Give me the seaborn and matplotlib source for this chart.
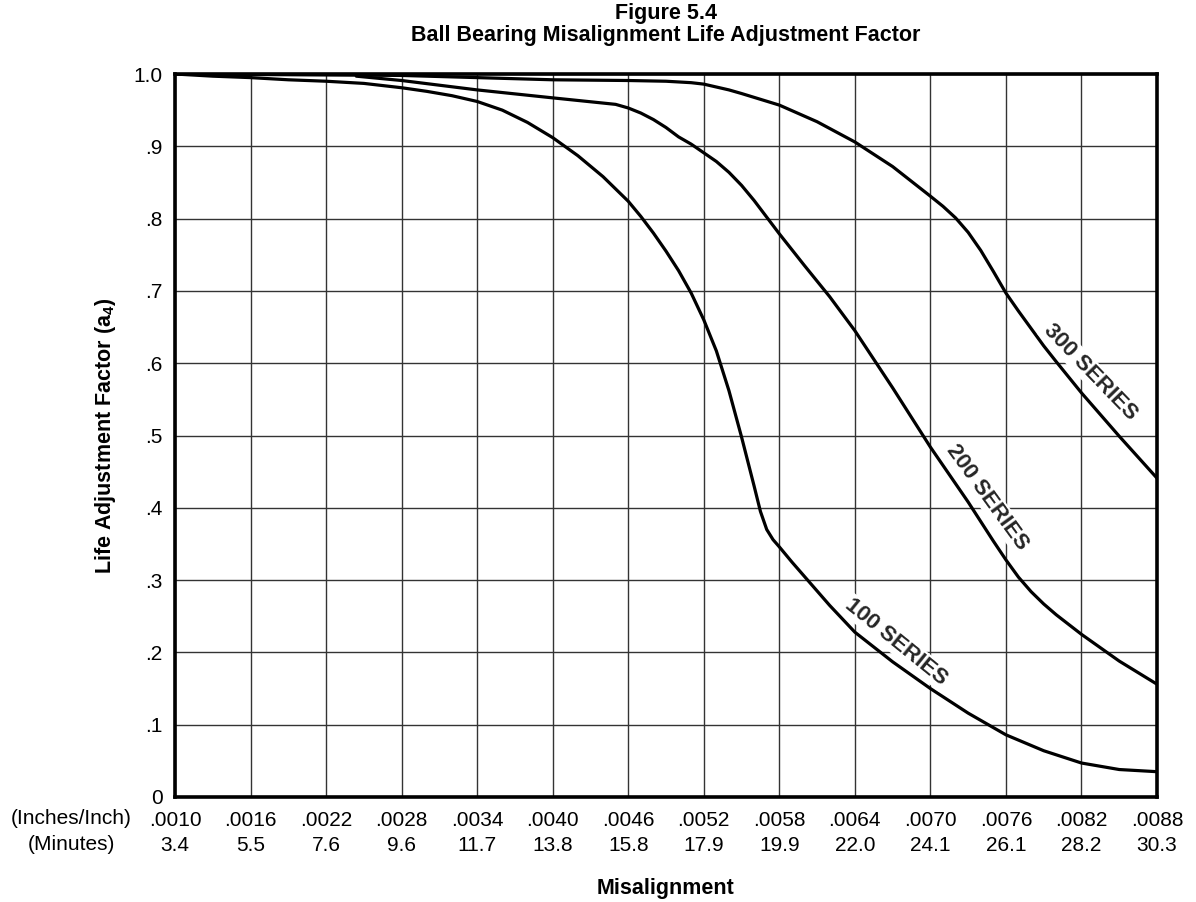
import numpy as np
import pandas as pd
import seaborn as sns
import matplotlib.pyplot as plt

# misalignment ticks (inches/inch) and the matching minutes
inch_ticks = [".0010", ".0016", ".0022", ".0028", ".0034", ".0040", ".0046",
              ".0052", ".0058", ".0064", ".0070", ".0076", ".0082", ".0088"]
minute_ticks = ["3.4", "5.5", "7.6", "9.6", "11.7", "13.8", "15.8",
                "17.9", "19.9", "22.0", "24.1", "26.1", "28.2", "30.3"]
y_ticks = [0, .1, .2, .3, .4, .5, .6, .7, .8, .9, 1.0]
y_ticklabels = ["0", ".1", ".2", ".3", ".4", ".5", ".6", ".7", ".8", ".9", "1.0"]

# curves
x100 = [.0010, .0013, .0016, .0019, .0022, .0025, .0028, .0030, .0032, .0034,
        .0036, .0038, .0040, .0042, .0044, .0046, .0047, .0048, .0049, .0050,
        .0051, .0052, .0053, .0054, .0055, .0056, .00565, .0057, .00575, .0058,
        .0059, .0060, .0062, .0064, .0067, .0070, .0073, .0076, .0079, .0082,
        .0085, .0088]
y100 = [1.000, .997, .995, .992, .990, .987, .981, .976, .970, .962,
        .950, .933, .912, .887, .858, .824, .803, .780, .755, .728,
        .697, .660, .617, .562, .498, .430, .395, .370, .356, .346,
        .325, .305, .265, .228, .187, .150, .116, .086, .064, .047,
        .038, .035]

x200 = [.00244, .0028, .0034, .0040, .0045, .0046, .0047, .0048, .0049, .0050,
        .0051, .0052, .0053, .0054, .0055, .0056, .0057, .0058, .0059, .0060,
        .0062, .0064, .0067, .0070, .0073, .0074, .0075, .0076, .0077, .0078,
        .0079, .0080, .0082, .0085, .0088]
y200 = [.997, .991, .978, .967, .958, .953, .946, .937, .926, .913,
        .903, .891, .879, .864, .846, .825, .802, .779, .757, .735,
        .692, .645, .566, .484, .408, .381, .354, .328, .304, .284,
        .267, .252, .225, .188, .156]

x300 = [.0010, .0028, .0034, .0040, .0046, .0049, .0051, .0052, .0053, .0054,
        .0055, .0058, .0061, .0064, .0067, .0070, .0071, .0072, .0073, .0074,
        .0075, .0076, .0077, .0078, .0079, .0080, .0082, .0085, .0088]
y300 = [1.000, .998, .995, .992, .991, .990, .988, .986, .982, .978,
        .973, .957, .934, .906, .872, .831, .817, .801, .781, .756,
        .727, .697, .672, .648, .624, .602, .559, .499, .441]

sns.set_theme(style="white")
plt.rcParams['font.family'] = ['Liberation Sans', 'DejaVu Sans']
plt.rcParams['mathtext.fontset'] = 'custom'
plt.rcParams['mathtext.bf'] = 'Liberation Sans:bold'
plt.rcParams['mathtext.rm'] = 'Liberation Sans'

fig = plt.figure(figsize=(11.96, 9.02), dpi=100)
ax = fig.add_axes([175 / 1196, 105 / 902, 982 / 1196, 723 / 902])

for xs, ys in [(x100, y100), (x200, y200), (x300, y300)]:
    df = pd.DataFrame({"x": xs, "y": ys})
    sns.lineplot(data=df, x="x", y="y", ax=ax, color="black", linewidth=2.3,
                 sort=False, estimator=None, zorder=3)

xt = [float(t) for t in inch_ticks]
ax.set_xlim(xt[0], xt[-1])
ax.set_ylim(0, 1.0)
ax.set_xticks(xt)
ax.set_xticklabels([a + "\n" + b for a, b in zip(inch_ticks, minute_ticks)],
                   fontsize=15, linespacing=1.38)
ax.set_yticks(y_ticks)
ax.set_yticklabels(y_ticklabels, fontsize=15)
ax.tick_params(axis="both", length=0, colors="black")
ax.tick_params(axis="x", pad=10)
ax.tick_params(axis="y", pad=9)
ax.grid(True, color="#333333", linewidth=1.0)
for s in ax.spines.values():
    s.set_visible(True)
    s.set_color("black")
    s.set_linewidth(2.6)
    s.set_zorder(4)

ax.set_ylabel(r"Life Adjustment Factor (a$_\mathbf{4}$)", fontsize=15.5,
              fontweight="bold", color="black")
ax.yaxis.set_label_coords(-0.058, 0.5)
ax.set_xlabel("Misalignment", fontsize=15.5, fontweight="bold", color="black")
ax.xaxis.set_label_coords(0.5, -0.112)

ax.set_title("Figure 5.4\nBall Bearing Misalignment Life Adjustment Factor",
             fontsize=15.5, fontweight="bold", linespacing=1.02, pad=24,
             color="black")

fig.text(71 / 1196, 1 - 819 / 902, "(Inches/Inch)", ha="center", va="center",
         fontsize=15, color="black")
fig.text(71 / 1196, 1 - 844 / 902, "(Minutes)", ha="center", va="center",
         fontsize=15, color="black")

box = dict(facecolor="white", edgecolor="none", pad=1.0)
ax.text(.00827, .588, "300 SERIES", rotation=-46, rotation_mode="anchor",
        ha="center", va="center", fontsize=16, fontweight="bold", bbox=box, zorder=5)
ax.text(.00745, .415, "200 SERIES", rotation=-54, rotation_mode="anchor",
        ha="center", va="center", fontsize=16, fontweight="bold", bbox=box, zorder=5)
ax.text(.00673, .214, "100 SERIES", rotation=-39, rotation_mode="anchor",
        ha="center", va="center", fontsize=16, fontweight="bold", bbox=box, zorder=5)

plt.savefig("out.png", dpi=100)
plt.close()
